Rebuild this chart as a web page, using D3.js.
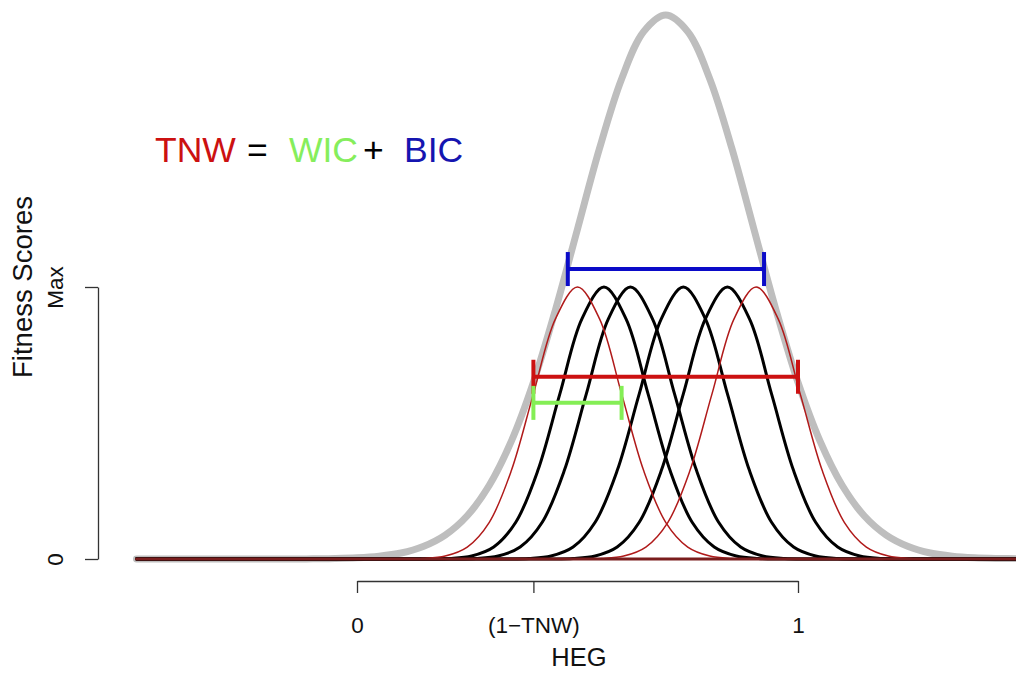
<!DOCTYPE html>
<html>
<head>
<meta charset="utf-8">
<script src="https://cdn.jsdelivr.net/npm/d3@7"></script>
<style>
  body { margin: 0; background: #fff; }
  text { font-family: "Liberation Sans", Arial, Helvetica, sans-serif; }
</style>
</head>
<body>
<script>
// x axis ticks (HEG) and y axis ticks (fitness)
var hegTicks = [0, 0.4, 1];
var hegTickLabels = ["0", "(1\u2212TNW)", "1"];
var fitTicks = [0, 1];
var fitTickLabels = ["0", "Max"];

// plotted range along HEG
var hegMin = -0.5, hegMax = 1.5;

// shape of one narrow fitness curve (offset from its peak, height)
var narrowOffsets = [-0.45, -0.4, -0.35, -0.3, -0.25, -0.2, -0.15, -0.1, -0.05, 0,
                     0.05, 0.1, 0.15, 0.2, 0.25, 0.3, 0.35, 0.4, 0.45];
var narrowHeights = [0, 0.0003, 0.002, 0.011, 0.044, 0.135, 0.325, 0.607, 0.883, 1,
                     0.883, 0.607, 0.325, 0.135, 0.044, 0.011, 0.002, 0.0003, 0];
// peaks of the narrow curves, left to right
var narrowCenters = [0.50, 0.56, 0.62, 0.74, 0.84, 0.905];
var narrowKind = ["edge", "inner", "inner", "inner", "inner", "edge"];

// the wide grey curve
var wideCenter = 0.70;
var wideOffsets = [-0.85, -0.8, -0.75, -0.7, -0.65, -0.6, -0.55, -0.5, -0.45, -0.4, -0.35, -0.3,
                   -0.25, -0.2, -0.15, -0.1, -0.05, 0, 0.05, 0.1, 0.15, 0.2, 0.25, 0.3, 0.35,
                   0.4, 0.45, 0.5, 0.55, 0.6, 0.65, 0.7, 0.75, 0.8];
var wideHeights = [0, 0.0007, 0.0018, 0.0044, 0.0102, 0.022, 0.046, 0.088, 0.159, 0.271, 0.433, 0.649,
                   0.916, 1.213, 1.510, 1.765, 1.939, 2, 1.939, 1.765, 1.510, 1.213, 0.916, 0.649, 0.433,
                   0.271, 0.159, 0.088, 0.046, 0.022, 0.0102, 0.0044, 0.0018, 0.0007];

// range bars: name, from, to, height
var barNames = ["BIC", "TNW", "WIC"];
var barFrom = [0.478, 0.40, 0.40];
var barTo = [0.923, 1.0, 0.60];
var barLevel = [1.066, 0.67, 0.574];

var legendWords = ["TNW", "=", "WIC", "+", "BIC"];

var colors = {
  grey: "#bebebe",
  inner: "#000000",
  edge: "#b01a1a",
  TNW: "#cc1111",
  WIC: "#84ee55",
  BIC: "#0b0bc8"
};

var width = 1016, height = 673;

var svg = d3.select("body").append("svg")
  .attr("width", width)
  .attr("height", height);

var x = d3.scaleLinear().domain([0, 1]).range([357, 798]);
var y = d3.scaleLinear().domain([0, 1]).range([559, 287]);

var line = d3.line()
  .x(function(d) { return x(d[0]); })
  .y(function(d) { return y(d[1]); })
  .curve(d3.curveCatmullRom);

// wide grey curve
var wideData = [[hegMin, 0]];
wideOffsets.forEach(function(o, i) { wideData.push([wideCenter + o, wideHeights[i]]); });
wideData.push([hegMax, 0]);

svg.append("path")
  .datum(wideData)
  .attr("d", line)
  .attr("fill", "none")
  .attr("stroke", colors.grey)
  .attr("stroke-width", 7)
  .attr("stroke-linecap", "round")
  .attr("stroke-linejoin", "round");

// narrow curves, black first then red ones on top
function narrowData(c) {
  var pts = [[hegMin, 0]];
  narrowOffsets.forEach(function(o, i) { pts.push([c + o, narrowHeights[i]]); });
  pts.push([hegMax, 0]);
  return pts;
}

["inner", "edge"].forEach(function(kind) {
  svg.selectAll("path.c-" + kind)
    .data(narrowCenters.filter(function(c, i) { return narrowKind[i] === kind; }))
    .enter()
    .append("path")
    .attr("class", "c-" + kind)
    .attr("d", function(c) { return line(narrowData(c)); })
    .attr("fill", "none")
    .attr("stroke", colors[kind])
    .attr("stroke-width", kind === "inner" ? 3 : 1.5)
    .attr("stroke-linecap", "round")
    .attr("stroke-linejoin", "round");
});

// baseline where all curves run together (shows dark red in the original)
svg.append("line")
  .attr("x1", x(hegMin))
  .attr("x2", x(hegMax))
  .attr("y1", y(0))
  .attr("y2", y(0))
  .attr("stroke", "#7a1d1d")
  .attr("stroke-width", 3)
  .attr("stroke-linecap", "round");

// range bars with end caps
var capHalf = 17;
var bars = svg.selectAll("g.bar")
  .data(barNames)
  .enter()
  .append("g")
  .attr("class", "bar")
  .attr("stroke", function(d) { return colors[d]; })
  .attr("stroke-width", 4);

bars.append("line")
  .attr("x1", function(d, i) { return x(barFrom[i]); })
  .attr("x2", function(d, i) { return x(barTo[i]); })
  .attr("y1", function(d, i) { return y(barLevel[i]); })
  .attr("y2", function(d, i) { return y(barLevel[i]); });

[barFrom, barTo].forEach(function(ends) {
  bars.append("line")
    .attr("x1", function(d, i) { return x(ends[i]); })
    .attr("x2", function(d, i) { return x(ends[i]); })
    .attr("y1", function(d, i) { return y(barLevel[i]) - capHalf; })
    .attr("y2", function(d, i) { return y(barLevel[i]) + capHalf; });
});

// x axis
var xAxis = d3.axisBottom(x)
  .tickValues(hegTicks)
  .tickFormat(function(d, i) { return hegTickLabels[i]; })
  .tickSize(12)
  .tickSizeOuter(0)
  .tickPadding(24);

var gx = svg.append("g")
  .attr("transform", "translate(0,581)")
  .call(xAxis);
gx.select(".domain").attr("stroke", "#333").attr("stroke-width", 1.3);
gx.selectAll(".tick line").attr("stroke", "#333").attr("stroke-width", 1.3);
gx.selectAll(".tick text")
  .attr("fill", "#111")
  .style("font-size", "22.5px");

svg.append("text")
  .attr("x", 579)
  .attr("y", 666)
  .attr("text-anchor", "middle")
  .style("font-size", "25.5px")
  .attr("fill", "#111")
  .text("HEG");

// y axis
var yAxis = d3.axisLeft(y)
  .tickValues(fitTicks)
  .tickFormat(function(d, i) { return fitTickLabels[i]; })
  .tickSize(13)
  .tickSizeOuter(0);

var gy = svg.append("g")
  .attr("transform", "translate(98,0)")
  .call(yAxis);
gy.select(".domain").attr("stroke", "#333").attr("stroke-width", 1.3);
gy.selectAll(".tick line").attr("stroke", "#333").attr("stroke-width", 1.3);
gy.selectAll(".tick text")
  .attr("x", null)
  .attr("dy", null)
  .attr("text-anchor", "middle")
  .attr("transform", "translate(-35,0) rotate(-90)")
  .attr("fill", "#111")
  .style("font-size", "22.5px");

svg.append("text")
  .attr("transform", "translate(32,287) rotate(-90)")
  .attr("text-anchor", "middle")
  .style("font-size", "27.5px")
  .attr("fill", "#111")
  .text("Fitness Scores");

// TNW = WIC + BIC
var legendX = [155, 247, 289, 363, 404];
var legendColor = [colors.TNW, "#000", "#86ee5c", "#000", "#1515b0"];
svg.selectAll("text.legend")
  .data(legendWords)
  .enter()
  .append("text")
  .attr("class", "legend")
  .attr("x", function(d, i) { return legendX[i]; })
  .attr("y", 162)
  .style("font-size", "35.5px")
  .attr("fill", function(d, i) { return legendColor[i]; })
  .text(function(d) { return d; });
</script>
</body>
</html>
